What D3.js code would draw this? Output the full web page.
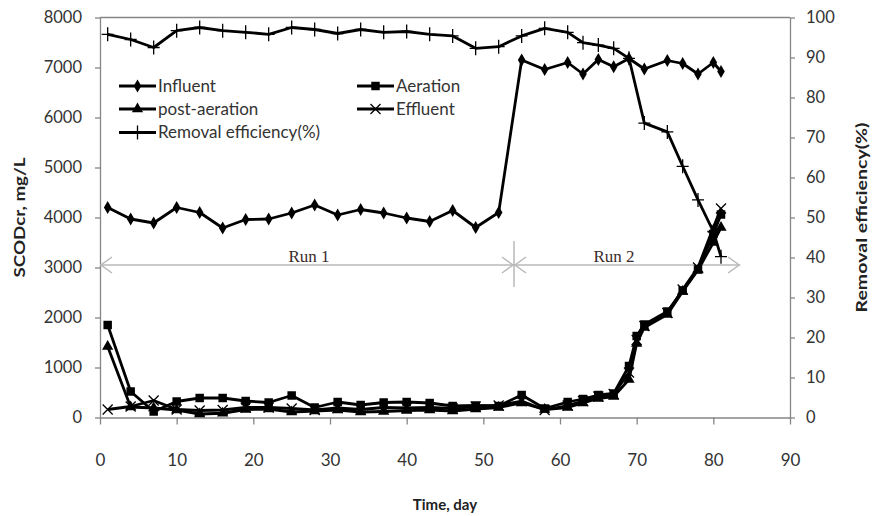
<!DOCTYPE html>
<html>
<head>
<meta charset="utf-8">
<script src="https://cdn.jsdelivr.net/npm/d3@7"></script>
<style>
  body { margin: 0; background: #fff; }
  svg { display: block; font-family: Lato, "Open Sans", sans-serif; }
</style>
</head>
<body>
<div id="chart-wrap"></div>
<script>
// sampling days
const days = [1, 4, 7, 10, 13, 16, 19, 22, 25, 28, 31, 34, 37, 40, 43, 46, 49, 52,
              55, 58, 61, 63, 65, 67, 69, 70, 71, 74, 76, 78, 80, 81];

// SCODcr, mg/L (null = not measured that day)
const influent = [4200, 3970, 3890, 4200, 4100, 3790, 3960, 3970, 4090, 4250, 4050, 4160, 4090, 3990, 3920, 4140, 3800, 4100,
                  7150, 6960, 7100, 6870, 7160, 7015, 7180, null, 6970, 7140, 7080, 6870, 7100, 6920];
const aeration = [1850, 520, 120, 320, 390, 390, 330, 300, 440, 200, 310, 250, 300, 310, 290, 230, 240, 230,
                  450, 180, 310, 370, 450, 480, 1030, 1630, 1860, 2120, 2540, 2960, 3670, 4060];
const postAeration = [1420, 210, 190, 150, 70, 85, 160, 170, 110, 130, 150, 110, 120, 140, 150, 130, 170, 200,
                      290, 160, 200, 290, 380, 420, 760, 1480, 1800, 2060, 2520, 2950, 3500, 3800];
const effluent = [160, 220, 340, 160, 140, 150, 200, 200, 180, 150, 190, 160, 200, 190, 200, 180, 220, 240,
                  330, 150, 240, 330, 420, 470, 900, 1550, 1830, 2090, 2560, 3000, 3800, 4180];
// Removal efficiency (%), right axis
const removal = [95.8, 94.5, 92.5, 96.7, 97.5, 96.7, 96.3, 95.8, 97.5, 97.0, 96.0, 97.0, 96.3, 96.5, 95.8, 95.4, 92.3, 92.7,
                 95.4, 97.3, 96.3, 93.7, 93.1, 92.3, 89.8, null, 73.6, 71.4, 62.8, 54.4, 46.5, 40.2];

const xTicks = [0, 10, 20, 30, 40, 50, 60, 70, 80, 90];
const yLeftTicks = [0, 1000, 2000, 3000, 4000, 5000, 6000, 7000, 8000];
const yRightTicks = [0, 10, 20, 30, 40, 50, 60, 70, 80, 90, 100];

// runs: [start day, end day, label, arrow level in mg/L]
const runs = [[0, 54, "Run 1", 3050], [54, 83.5, "Run 2", 3050]];
const runSplit = 54;

const width = 872, height = 516;
const plotLeft = 100, plotRight = 790, plotTop = 17.5, plotBottom = 417.5;
const axisColor = "#868686";

const svg = d3.select("#chart-wrap").append("svg")
  .attr("width", width).attr("height", height);

const x = d3.scaleLinear().domain([0, 90]).range([plotLeft, plotRight]);
const yL = d3.scaleLinear().domain([0, 8000]).range([plotBottom, plotTop]);
const yR = d3.scaleLinear().domain([0, 100]).range([plotBottom, plotTop]);

// axes
function styleAxis(g) {
  g.select(".domain").attr("stroke", axisColor).attr("stroke-width", 1.3);
  g.selectAll(".tick line").attr("stroke", axisColor).attr("stroke-width", 1.3);
  g.selectAll(".tick text").attr("fill", "#333").attr("font-family", "Lato, sans-serif");
}

svg.append("g")
  .attr("transform", `translate(${plotLeft},0)`)
  .call(d3.axisLeft(yL).tickValues(yLeftTicks).tickSize(5).tickSizeOuter(0).tickPadding(13).tickFormat(d3.format("d")))
  .call(styleAxis)
  .call(g => g.selectAll(".tick text").attr("font-size", 16.5));

svg.append("g")
  .attr("transform", `translate(${plotRight},0)`)
  .call(d3.axisRight(yR).tickValues(yRightTicks).tickSize(5).tickSizeOuter(0).tickPadding(11))
  .call(styleAxis)
  .call(g => g.selectAll(".tick text").attr("font-size", 16.5));

svg.append("g")
  .attr("transform", `translate(0,${plotBottom})`)
  .call(d3.axisBottom(x).tickValues(xTicks).tickSize(7).tickSizeOuter(0).tickPadding(29))
  .call(styleAxis)
  .call(g => g.selectAll(".tick text").attr("font-size", 17));

// top border
svg.append("line")
  .attr("x1", plotLeft).attr("x2", plotRight).attr("y1", plotTop).attr("y2", plotTop)
  .attr("stroke", axisColor).attr("stroke-width", 1.3);

// axis titles
svg.append("text")
  .attr("transform", `translate(${x(45)},510)`)
  .attr("text-anchor", "middle")
  .attr("font-weight", "bold").attr("font-size", 15).attr("fill", "#222")
  .text("Time, day");

svg.append("text")
  .attr("transform", `translate(25,${(plotTop + plotBottom) / 2}) rotate(-90)`)
  .attr("text-anchor", "middle")
  .attr("font-weight", "bold").attr("font-size", 16).attr("fill", "#222")
  .attr("textLength", 120).attr("lengthAdjust", "spacingAndGlyphs")
  .text("SCODcr, mg/L");

svg.append("text")
  .attr("transform", `translate(867,${(plotTop + plotBottom) / 2}) rotate(-90)`)
  .attr("text-anchor", "middle")
  .attr("font-weight", "bold").attr("font-size", 16).attr("fill", "#222")
  .attr("textLength", 190).attr("lengthAdjust", "spacingAndGlyphs")
  .text("Removal efficiency(%)");

// run annotations
const runColor = "#b8b8b8";
const runG = svg.append("g");
runs.forEach(([a, b, label, lvl]) => {
  const yy = yL(lvl), x0 = x(a), x1 = x(b);
  runG.append("line").attr("x1", x0).attr("x2", x1).attr("y1", yy).attr("y2", yy)
    .attr("stroke", runColor).attr("stroke-width", 1.5);
  runG.append("path")
    .attr("d", `M${x0 + 12},${yy - 8}L${x0 + 1},${yy}L${x0 + 12},${yy + 8}`)
    .attr("fill", "none").attr("stroke", runColor).attr("stroke-width", 1.5);
  runG.append("path")
    .attr("d", `M${x1 - 12},${yy - 8}L${x1 - 1},${yy}L${x1 - 12},${yy + 8}`)
    .attr("fill", "none").attr("stroke", runColor).attr("stroke-width", 1.5);
  runG.append("text")
    .attr("x", (x0 + x1) / 2 + (label === "Run 1" ? 2 : -13)).attr("y", yy - 3)
    .attr("text-anchor", "middle")
    .attr("font-family", "'Liberation Serif', 'DejaVu Serif', serif")
    .attr("font-size", 17).attr("fill", "#3a2a2a")
    .text(label);
});
runG.append("line")
  .attr("x1", x(runSplit)).attr("x2", x(runSplit))
  .attr("y1", yL(3050) - 24).attr("y2", yL(3050) + 22)
  .attr("stroke", runColor).attr("stroke-width", 1.5);

// markers
const markers = {
  diamond: g => g.append("path").attr("d", d3.symbol(d3.symbolDiamond, 50)()).attr("fill", "#000"),
  square: g => g.append("path").attr("d", d3.symbol(d3.symbolSquare, 72)()).attr("fill", "#000"),
  triangle: g => g.append("path").attr("d", d3.symbol(d3.symbolTriangle, 55)()).attr("fill", "#000"),
  cross: g => g.append("path").attr("d", "M-5,-5L5,5M-5,5L5,-5").attr("stroke", "#000").attr("stroke-width", 1.3).attr("fill", "none"),
  plus: g => g.append("path").attr("d", "M0,-7L0,7M-6,0L6,0").attr("stroke", "#000").attr("stroke-width", 1.3).attr("fill", "none")
};

const series = [
  { name: "Influent", values: influent, y: yL, marker: "diamond" },
  { name: "Aeration", values: aeration, y: yL, marker: "square" },
  { name: "post-aeration", values: postAeration, y: yL, marker: "triangle" },
  { name: "Effluent", values: effluent, y: yL, marker: "cross" },
  { name: "Removal efficiency(%)", values: removal, y: yR, marker: "plus" }
];

series.forEach(s => {
  const pts = days.map((d, i) => ({ day: d, v: s.values[i] })).filter(p => p.v != null);
  const g = svg.append("g");
  g.append("path").datum(pts)
    .attr("fill", "none").attr("stroke", "#000").attr("stroke-width", 2.8)
    .attr("stroke-linejoin", "round")
    .attr("d", d3.line().x(p => x(p.day)).y(p => s.y(p.v)));
  pts.forEach(p => {
    const m = g.append("g").attr("transform", `translate(${x(p.day)},${s.y(p.v)})`);
    markers[s.marker](m);
  });
});

// legend
const legendItems = [
  { idx: 0, lx: 119, ly: 86 },
  { idx: 1, lx: 357, ly: 86 },
  { idx: 2, lx: 119, ly: 109 },
  { idx: 3, lx: 357, ly: 109 },
  { idx: 4, lx: 119, ly: 132.5 }
];
const legend = svg.append("g");
legendItems.forEach(it => {
  const s = series[it.idx];
  const g = legend.append("g").attr("transform", `translate(${it.lx},${it.ly})`);
  g.append("line").attr("x1", 0).attr("x2", 37).attr("y1", 0).attr("y2", 0)
    .attr("stroke", "#000").attr("stroke-width", 2.8);
  markers[s.marker](g.append("g").attr("transform", "translate(18.5,0)"));
  g.append("text").attr("x", 39).attr("y", 0).attr("dy", "0.35em")
    .attr("font-size", 17).attr("fill", "#333")
    .text(s.name);
});
</script>
</body>
</html>
